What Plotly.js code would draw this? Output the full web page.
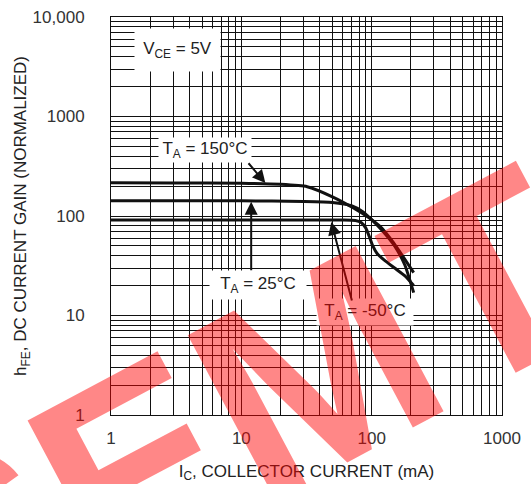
<!DOCTYPE html>
<html>
<head>
<meta charset="utf-8">
<script src="https://cdn.plot.ly/plotly-3.0.1.min.js"></script>
<style>html,body{margin:0;padding:0;background:#fff;}#chart{width:531px;height:484px;}</style>
</head>
<body>
<div id="chart"></div>
<script>
// Collector current (mA) and normalized DC current gain for each temperature
const ic150 = [1, 3, 10, 20, 32, 50, 72, 93, 117, 147, 210];
const hfe150 = [216, 215, 213, 208, 197, 156, 121, 98, 78, 54, 27];

const ic25 = [1, 3, 10, 30, 50, 70, 86, 100, 120, 150, 180, 210];
const hfe25 = [142, 142, 142, 140, 137, 127, 110, 92, 72, 50, 32, 17];

const icM50 = [1, 3, 10, 30, 60, 75, 83, 90, 96, 102, 110, 125, 150, 180, 210];
const hfeM50 = [91, 91, 91, 91, 91, 90, 86, 76, 62, 50, 42, 36, 30, 25, 20];

const xTickVals = [1, 10, 100, 1000];
const xTickText = ['1', '10', '100', '1000'];
const yTickVals = [1, 10, 100, 1000, 10000];
const yTickText = ['1', '10', '100', '1000', '10,000'];

const FONT = 'Liberation Sans, Arial, sans-serif';
const TXT = '#222';

function line(x, y, name) {
  return {x: x, y: y, name: name, type: 'scatter', mode: 'lines',
    line: {color: '#111', width: 3, shape: 'spline', smoothing: 0.5},
    hoverinfo: 'x+y'};
}

const L = Math.log10;

const data = [
  line(ic150, hfe150, 'TA = 150°C'),
  line(ic25, hfe25, 'TA = 25°C'),
  line(icM50, hfeM50, 'TA = -50°C')
];

function label(text, x, y, w, h) {
  return {text: text, x: L(x), y: L(y), xref: 'x', yref: 'y', showarrow: false,
    font: {family: FONT, size: 17, color: TXT}, bgcolor: '#fff',
    width: w, height: h, xanchor: 'center', yanchor: 'middle'};
}
// arrow from (x0, y0) to head at (x1, y1)
function arrow(x0, y0, x1, y1) {
  return {text: '', x: L(x1), y: L(y1), ax: L(x0), ay: L(y0),
    xref: 'x', yref: 'y', axref: 'x', ayref: 'y', showarrow: true,
    arrowhead: 2, arrowsize: 1.3, arrowwidth: 2, arrowcolor: '#111', standoff: 0, startstandoff: 0};
}

const annotations = [
  label('V<sub>CE</sub> = 5V', 3.23, 4700, 83, 40),
  label('T<sub>A</sub> = 150°C', 5.3, 460, 90, 22),
  label('T<sub>A</sub> = 25°C', 13.5, 20.3, 94, 26),
  label('T<sub>A</sub> = -50°C', 89, 10.9, 94, 24),
  arrow(11.1, 351, 15.3, 214),
  arrow(11.9, 27.5, 11.9, 139),
  arrow(71, 13.7, 49, 87),
  {text: 'SEMTECH', xref: 'paper', yref: 'paper', x: 0.95, y: 0.33,
    showarrow: false, textangle: -28,
    font: {family: FONT, size: 272, color: 'rgba(255,0,0,0.47)', weight: 'bold'},
    xanchor: 'center', yanchor: 'middle'}
];

const axisCommon = {
  type: 'log', showline: true, mirror: true, linecolor: '#111', linewidth: 1,
  showgrid: true, gridcolor: '#111', gridwidth: 1, zeroline: false,
  ticks: '', tickfont: {family: FONT, size: 17, color: '#333'},
  minor: {dtick: 'D1', showgrid: true, gridcolor: '#111', gridwidth: 1, ticks: ''}
};

const layout = {
  width: 531, height: 484,
  margin: {l: 111, r: 29, t: 17, b: 69},
  paper_bgcolor: '#fff', plot_bgcolor: '#fff',
  showlegend: false,
  xaxis: Object.assign({}, axisCommon, {
    range: [0, 3], tickmode: 'array', tickvals: xTickVals, ticktext: xTickText,
    ticklabelstandoff: 8,
    title: {text: 'I<sub>C</sub>, COLLECTOR CURRENT (mA)', font: {family: FONT, size: 17, color: TXT}, standoff: 17}
  }),
  yaxis: Object.assign({}, axisCommon, {
    range: [0, 4], tickmode: 'array', tickvals: yTickVals, ticktext: yTickText,
    ticklabelstandoff: 22,
    title: {text: 'h<sub>FE</sub>, DC CURRENT GAIN (NORMALIZED)', font: {family: FONT, size: 17, color: TXT}, standoff: 1}
  }),
  annotations: annotations
};

Plotly.newPlot('chart', data, layout, {displayModeBar: false, staticPlot: true});
</script>
</body>
</html>
